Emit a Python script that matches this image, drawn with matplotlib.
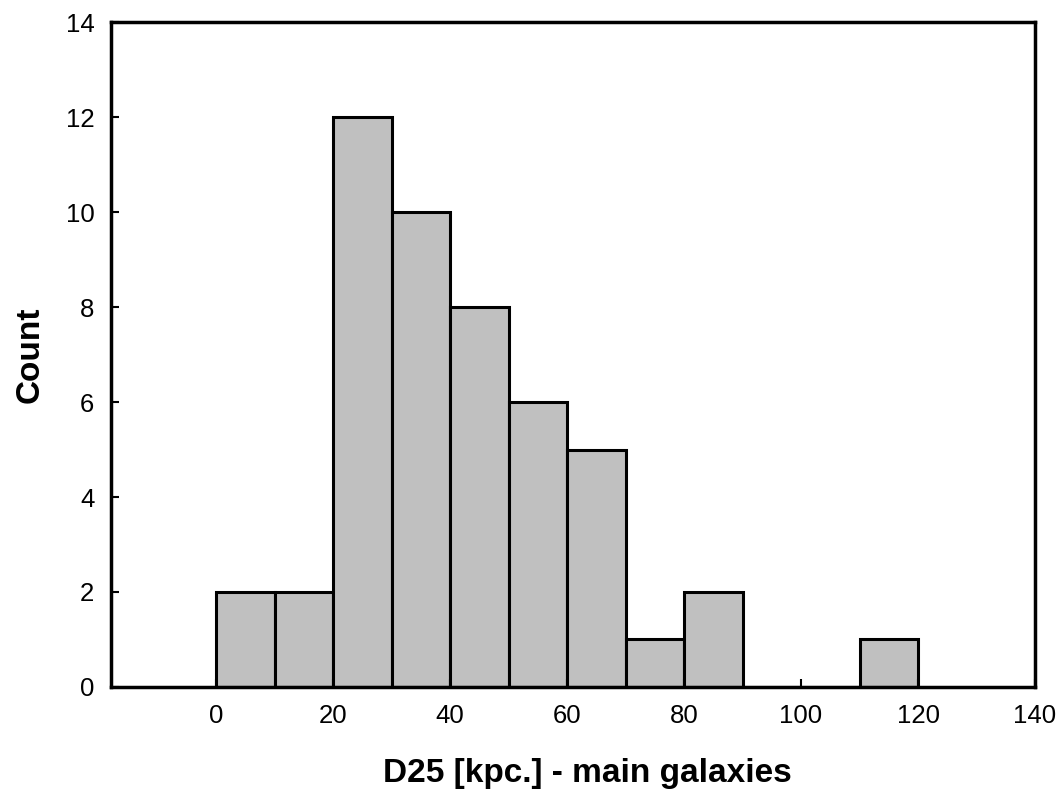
import matplotlib.pyplot as plt
import numpy as np

plt.rcParams['font.family'] = ['Liberation Sans', 'DejaVu Sans']

# histogram bins (kpc) and counts
bin_edges = [0, 10, 20, 30, 40, 50, 60, 70, 80, 90, 100, 110, 120]
counts = [2, 2, 12, 10, 8, 6, 5, 1, 2, 0, 0, 1]
x_ticks = [0, 20, 40, 60, 80, 100, 120, 140]
y_ticks = [0, 2, 4, 6, 8, 10, 12, 14]

fig = plt.figure(figsize=(10.6, 7.96), dpi=100)
ax = fig.add_axes([0.1047, 0.137, 0.8717, 0.835])

lefts = np.array(bin_edges[:-1])
widths = np.diff(bin_edges)
ax.bar(lefts, counts, width=widths, align='edge', color='#c0c0c0',
       edgecolor='black', linewidth=2.2)

ax.set_xlim(-18, 140)
ax.set_ylim(0, 14)
ax.set_xticks(x_ticks)
ax.set_yticks(y_ticks)
ax.tick_params(direction='in', length=6, width=1.5, labelsize=18.5, pad=12)
ax.tick_params(axis='y', pad=12)
for s in ax.spines.values():
    s.set_linewidth(2.5)

ax.set_xlabel('D25 [kpc.] - main galaxies', fontsize=24, fontweight='bold', labelpad=22)
ax.xaxis.label.set_x(0.516)
ax.set_ylabel('Count', fontsize=24, fontweight='bold', labelpad=14)

fig.savefig('out.png', dpi=100)
